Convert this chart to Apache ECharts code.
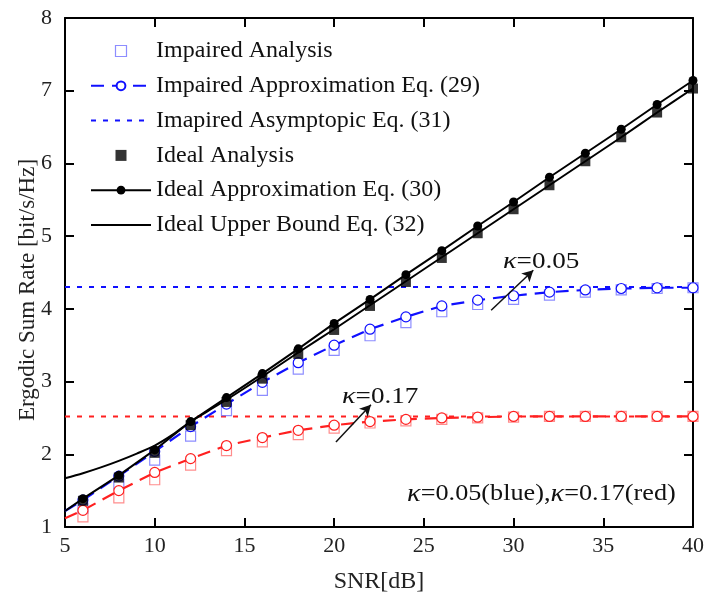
<!DOCTYPE html>
<html>
<head>
<meta charset="utf-8">
<script src="https://cdn.jsdelivr.net/npm/echarts@6/dist/echarts.min.js"></script>
<style>html,body{margin:0;padding:0;background:#fff}#c{width:705px;height:594px}</style>
</head>
<body>
<div id="c"></div>
<script>
// ---- data ----
var snrMarks = [6, 8, 10, 12, 14, 16, 18, 20, 22, 24, 26, 28, 30, 32, 34, 36, 38, 40];
var snrCurve = [5, 6, 8, 10, 12, 14, 16, 18, 20, 22, 24, 26, 28, 30, 32, 34, 36, 38, 40];
var snrUpper = [5, 6, 7, 8, 9, 10, 11, 12, 13, 14, 16, 18, 20, 22, 24, 26, 28, 30, 32, 34, 36, 38, 40];
var xTicks = [5, 10, 15, 20, 25, 30, 35, 40];
var yTicks = [1, 2, 3, 4, 5, 6, 7, 8];

var blueAnalysis = [1.26, 1.59, 1.92, 2.25, 2.60, 2.88, 3.17, 3.43, 3.63, 3.81, 3.96, 4.06, 4.13, 4.19, 4.23, 4.26, 4.28, 4.29];
var blueApprox   = [1.22, 1.37, 1.70, 2.04, 2.38, 2.69, 2.99, 3.26, 3.50, 3.72, 3.89, 4.04, 4.12, 4.18, 4.23, 4.26, 4.28, 4.29, 4.29];
var blueAsym = 4.30;
var redAnalysis  = [1.14, 1.40, 1.65, 1.85, 2.05, 2.17, 2.27, 2.36, 2.43, 2.46, 2.48, 2.50, 2.51, 2.52, 2.52, 2.52, 2.52, 2.52];
var redApprox    = [1.12, 1.23, 1.50, 1.75, 1.94, 2.12, 2.23, 2.33, 2.40, 2.45, 2.48, 2.50, 2.51, 2.52, 2.52, 2.52, 2.52, 2.52, 2.52];
var redAsym = 2.52;
var idealAnalysis = [1.36, 1.68, 2.02, 2.40, 2.72, 3.04, 3.38, 3.71, 4.04, 4.37, 4.70, 5.04, 5.37, 5.70, 6.03, 6.36, 6.70, 7.03];
var idealApprox   = [1.22, 1.39, 1.71, 2.06, 2.45, 2.78, 3.11, 3.45, 3.80, 4.13, 4.47, 4.80, 5.14, 5.47, 5.81, 6.14, 6.47, 6.81, 7.14];
var idealUpper    = [1.67, 1.74, 1.82, 1.91, 2.01, 2.12, 2.27, 2.45, 2.60, 2.75, 3.07, 3.40, 3.72, 4.05, 4.38, 4.71, 5.04, 5.37, 5.70, 6.03, 6.36, 6.70, 7.03];

// annotation arrows in data coordinates [tail, tip]
var arrow005 = [[28.75, 3.98], [31.1, 4.53]];
var arrow017 = [[20.1, 2.17], [22.05, 2.68]];

// ---- build ----
function pairs(xs, ys) { return xs.map(function (x, i) { return [x, ys[i]]; }); }
function curveData(xs, ys) {
  return xs.map(function (x, i) {
    var d = { value: [x, ys[i]] };
    if (snrMarks.indexOf(x) < 0) d.symbol = 'none';
    return d;
  });
}
function flat(v) { return [[5, v], [40, v]]; }

var FONT = '"Liberation Serif", "DejaVu Serif", serif';
var BLUE = '#1010ff', BLUE_SQ = '#7070ff', RED = '#ff2020', RED_SQ = '#ff7070';
var SQ_PATH = 'path://M0,0L10,0L10,10L0,10Z';
var HIDE_SYM = { color: 'rgba(0,0,0,0)', borderColor: 'rgba(0,0,0,0)', borderWidth: 0, opacity: 0 };

var chart = echarts.init(document.getElementById('c'), null, { renderer: 'canvas' });

var axisCommon = {
  axisLine: { show: true, lineStyle: { color: '#000', width: 2 } },
  axisTick: { show: true, inside: true, length: 9, lineStyle: { color: '#000', width: 2 } },
  splitLine: { show: false }
};

var kRich = function (kSize, tSize) {
  return { k: { font: 'italic ' + kSize + 'px ' + FONT, fill: '#111' }, t: { font: tSize + 'px ' + FONT, fill: '#111' } };
};

var option = {
  animation: false,
  backgroundColor: '#fff',
  grid: { left: 65, right: 12, top: 18, bottom: 67, containLabel: false, outerBoundsMode: 'none' },
  xAxis: [
    Object.assign({
      type: 'value', min: 5, max: 40, interval: 5, position: 'bottom',
      axisLabel: { color: '#222', fontFamily: FONT, fontSize: 22, margin: 8 },
      name: 'SNR[dB]', nameLocation: 'middle', nameGap: 43,
      nameTextStyle: { color: '#222', fontFamily: FONT, fontSize: 24 }
    }, axisCommon),
    Object.assign({
      type: 'value', min: 5, max: 40, interval: 5, position: 'top',
      axisLabel: { show: false }
    }, axisCommon)
  ],
  yAxis: [
    Object.assign({
      type: 'value', min: 1, max: 8, interval: 1, position: 'left',
      axisLabel: { color: '#222', fontFamily: FONT, fontSize: 22, margin: 13 }
    }, axisCommon),
    Object.assign({
      type: 'value', min: 1, max: 8, interval: 1, position: 'right',
      axisLabel: { show: false }
    }, axisCommon)
  ],
  legend: {
    orient: 'vertical', left: 85, top: 34,
    itemWidth: 60, itemHeight: 11, itemGap: 10.8,
    symbolKeepAspect: true,
    textStyle: { color: '#111', fontFamily: FONT, fontSize: 24, lineHeight: 20 },
    data: [
      { name: 'Impaired Analysis', icon: SQ_PATH, itemStyle: { color: 'rgba(255,255,255,0)', borderColor: BLUE_SQ, borderWidth: 1.2 } },
      { name: 'Impaired Approximation Eq. (29)' },
      { name: 'Imapired Asymptopic Eq. (31)', itemStyle: HIDE_SYM },
      { name: 'Ideal Analysis', icon: SQ_PATH },
      { name: 'Ideal Approximation Eq. (30)' },
      { name: 'Ideal Upper Bound Eq. (32)', itemStyle: HIDE_SYM }
    ],
    selectedMode: false
  },
  graphic: [
    { type: 'text', x: 28, y: 290, rotation: Math.PI / 2,
      style: { text: 'Ergodic Sum Rate [bit/s/Hz]', font: '23px ' + FONT, fill: '#222', align: 'center', verticalAlign: 'middle' } },
    { type: 'text', x: 503, y: 262, scaleX: 1.18,
      style: { rich: kRich(24, 23), text: '{k|κ}{t|=0.05}', verticalAlign: 'middle' } },
    { type: 'text', x: 342, y: 397, scaleX: 1.18,
      style: { rich: kRich(24, 23), text: '{k|κ}{t|=0.17}', verticalAlign: 'middle' } },
    { type: 'text', x: 407, y: 494, scaleX: 1.14,
      style: { rich: kRich(25, 23), text: '{k|κ}{t|=0.05(blue),}{k|κ}{t|=0.17(red)}', verticalAlign: 'middle' } }
  ],
  series: [
    // asymptotes
    { name: 'Imapired Asymptopic Eq. (31)', type: 'line', data: flat(blueAsym), symbol: 'none', z: 2,
      lineStyle: { color: BLUE, width: 2, type: [5, 7] }, itemStyle: { color: BLUE } },
    { name: 'Red Asymptopic', type: 'line', data: flat(redAsym), symbol: 'none', z: 2,
      lineStyle: { color: RED, width: 2, type: [5, 7] }, itemStyle: { color: RED } },
    // analysis squares
    { name: 'Impaired Analysis', type: 'scatter', data: pairs(snrMarks, blueAnalysis), symbol: 'rect', symbolSize: 10, z: 3,
      itemStyle: { color: 'rgba(255,255,255,0)', borderColor: BLUE_SQ, borderWidth: 1.2 } },
    { name: 'Red Analysis', type: 'scatter', data: pairs(snrMarks, redAnalysis), symbol: 'rect', symbolSize: 10, z: 3,
      itemStyle: { color: 'rgba(255,255,255,0)', borderColor: RED_SQ, borderWidth: 1.2 } },
    // approximations (impaired)
    { name: 'Impaired Approximation Eq. (29)', type: 'line', data: curveData(snrCurve, blueApprox), z: 4,
      symbol: 'circle', symbolSize: 10, showAllSymbol: true,
      lineStyle: { color: BLUE, width: 2.2, type: [13, 8] },
      itemStyle: { color: '#fff', borderColor: BLUE, borderWidth: 1.2 } },
    { name: 'Red Approximation', type: 'line', data: curveData(snrCurve, redApprox), z: 4,
      symbol: 'circle', symbolSize: 10, showAllSymbol: true,
      lineStyle: { color: RED, width: 2.2, type: [13, 8] },
      itemStyle: { color: '#fff', borderColor: RED, borderWidth: 1.2 } },
    // ideal
    { name: 'Ideal Upper Bound Eq. (32)', type: 'line', data: pairs(snrUpper, idealUpper), symbol: 'none', smooth: 0.3, z: 5,
      lineStyle: { color: '#000', width: 2 }, itemStyle: { color: '#000' } },
    { name: 'Ideal Analysis', type: 'scatter', data: pairs(snrMarks, idealAnalysis), symbol: 'rect', symbolSize: 10,
      z: 5, itemStyle: { color: '#000' } },
    { name: 'Ideal Approximation Eq. (30)', type: 'line', data: curveData(snrCurve, idealApprox), z: 6,
      symbol: 'circle', symbolSize: 9, showAllSymbol: true,
      lineStyle: { color: '#000', width: 2 }, itemStyle: { color: '#000' },
      markLine: {
        silent: true, symbol: ['none', 'arrow'], symbolSize: [9, 11], animation: false,
        label: { show: false },
        lineStyle: { color: '#111', width: 1.5, type: 'solid' },
        data: [
          [{ coord: arrow005[0] }, { coord: arrow005[1] }],
          [{ coord: arrow017[0] }, { coord: arrow017[1] }]
        ]
      } }
  ]
};
chart.setOption(option);
</script>
</body>
</html>
